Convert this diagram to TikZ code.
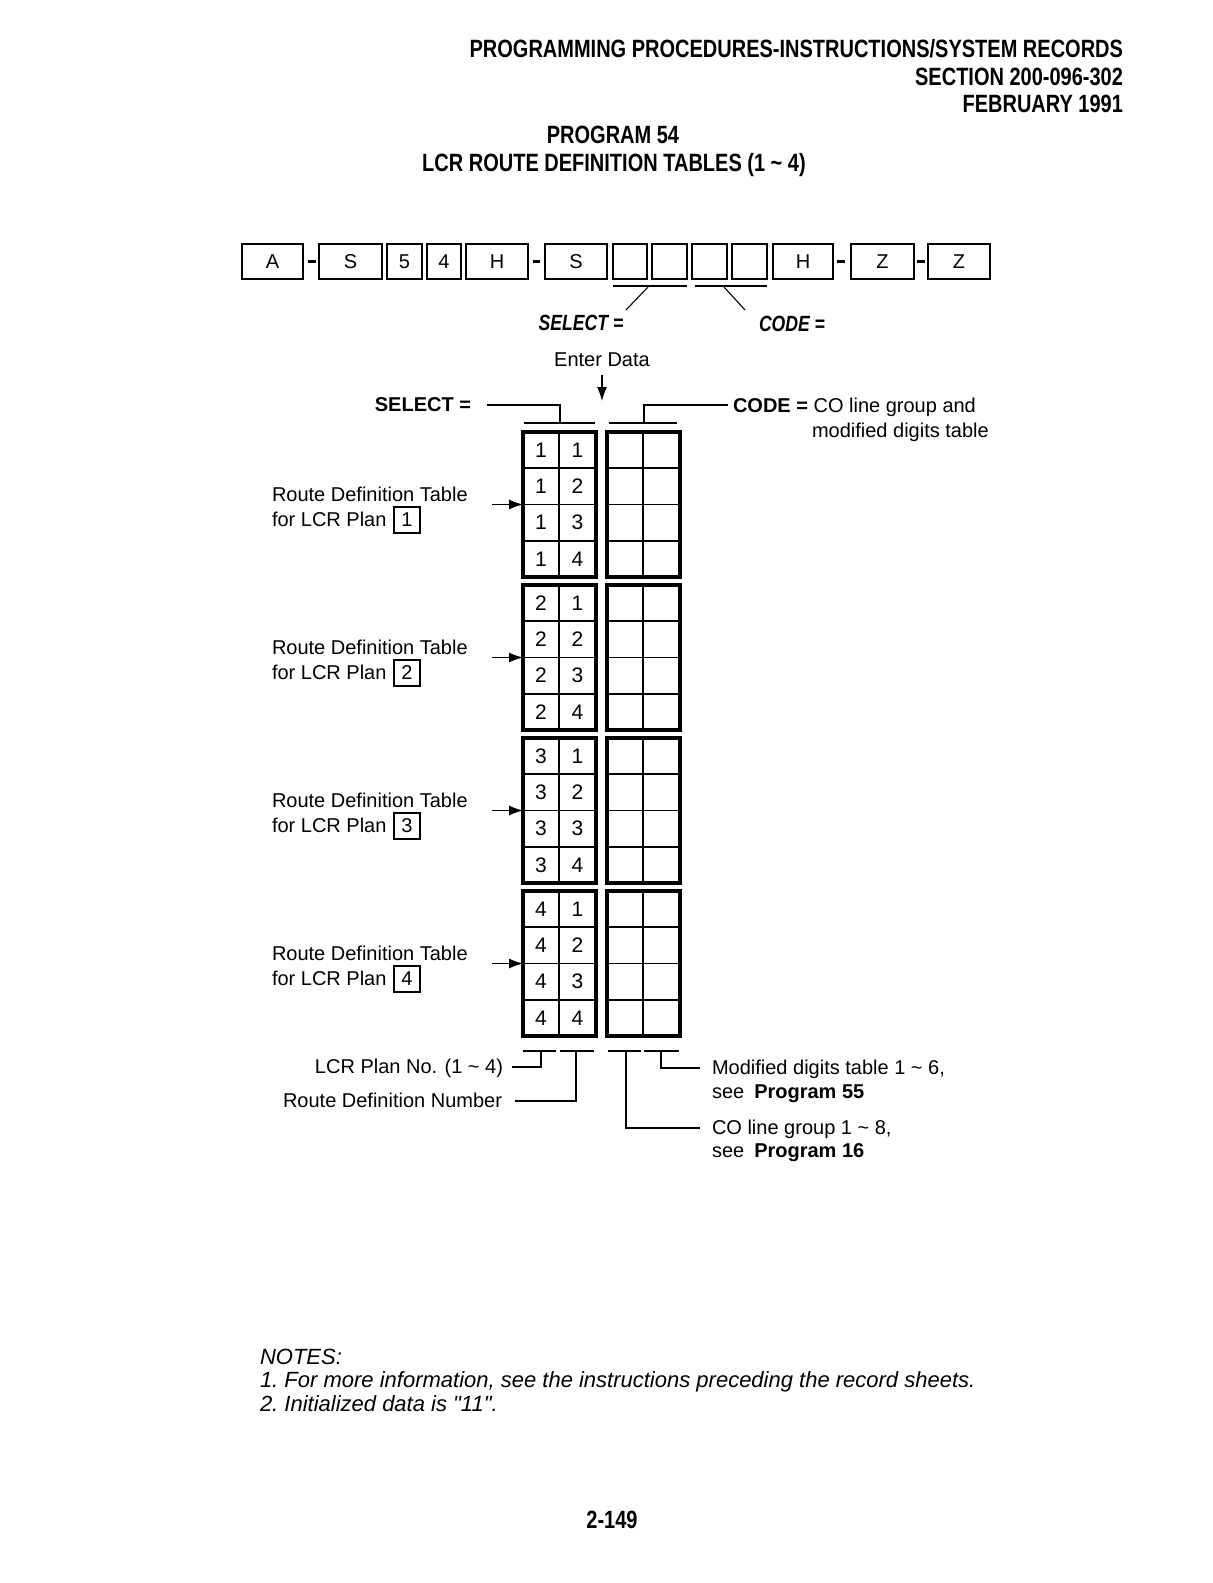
\documentclass[tikz,border=0pt]{standalone}
\usepackage{fontspec}
\setmainfont{Liberation Sans}
\newfontfamily\cond[FakeStretch=0.8]{Liberation Sans}
\usetikzlibrary{arrows.meta}
\begin{document}
\begin{tikzpicture}[x=0.5pt,y=-0.5pt,
  every node/.style={inner sep=0pt, outer sep=0pt},
  txt/.style={font=\fontsize{10}{12}\selectfont},
  hdr/.style={font=\fontsize{12.5}{15}\selectfont\cond\bfseries},
  topbox/.style={draw, line width=1pt, minimum height=17.5pt, font=\fontsize{10}{12}\selectfont},
  hyph/.style={line width=1.5pt},
  tbl/.style={draw, line width=1.6pt, minimum width=36.5pt, minimum height=72.5pt, anchor=north west},
  inl/.style={line width=0.85pt},
  brk/.style={line width=0.55pt},
  pbox/.style={draw, line width=0.7pt, minimum width=13pt, minimum height=13pt, font=\fontsize{10}{12}\selectfont},
  arr/.style={line width=0.6pt, -{Latex[length=7pt,width=5pt]}},
  digit/.style={font=\fontsize{10.5}{12}\selectfont},
  note/.style={font=\fontsize{11}{13}\selectfont\itshape, anchor=base west}
]
\useasboundingbox (0,0) rectangle (1213,1583);

% header
\node[hdr, anchor=base east] (h1) at (1123,58) {PROGRAMMING PROCEDURES-INSTRUCTIONS/SYSTEM RECORDS};
\node[hdr, anchor=base east] (h2) at (1123,86) {SECTION 200-096-302};
\node[hdr, anchor=base east] (h3) at (1123,113) {FEBRUARY 1991};
\node[hdr, anchor=base] (t1) at (613,144) {PROGRAM 54};
\node[hdr, anchor=base] (t2) at (614,172) {LCR ROUTE DEFINITION TABLES (1 \textasciitilde{} 4)};

% top row of keys
\node[topbox, minimum width=30.5pt] (bA) at (272.5,261.5) {A};
\node[topbox, minimum width=31.5pt] (bS1) at (350.5,261.5) {S};
\node[topbox, minimum width=17.5pt] (b5) at (404.5,261.5) {5};
\node[topbox, minimum width=17pt] (b4) at (444,261.5) {4};
\node[topbox, minimum width=31pt] (bH1) at (497,261.5) {H};
\node[topbox, minimum width=31pt] (bS2) at (576,261.5) {S};
\node[topbox, minimum width=17pt] (be1) at (630,261.5) {};
\node[topbox, minimum width=17.5pt] (be2) at (669.5,261.5) {};
\node[topbox, minimum width=17.5pt] (be3) at (709.5,261.5) {};
\node[topbox, minimum width=17.5pt] (be4) at (749.5,261.5) {};
\node[topbox, minimum width=30pt] (bH2) at (803,261.5) {H};
\node[topbox, minimum width=31.5pt] (bZ1) at (882.5,261.5) {Z};
\node[topbox, minimum width=31pt] (bZ2) at (959,261.5) {Z};
\draw[hyph] (308,262) -- (316,262);
\draw[hyph] (533,262) -- (540,262);
\draw[hyph] (837,262) -- (845,262);
\draw[hyph] (917,262) -- (925,262);

% underlines and pointers
\draw[brk] (613,286) -- (687,286);
\draw[brk] (695,286) -- (767,286);
\node[font=\fontsize{11}{13}\selectfont\cond\bfseries\itshape, anchor=base] (selI) at (581,331) {SELECT =};
\node[font=\fontsize{11}{13}\selectfont\cond\bfseries\itshape, anchor=base] (codeI) at (792,332) {CODE =};
\coordinate (u1) at (648,287);
\coordinate (u2) at (724,287);
\draw[brk] (u1) -- (626,310);
\draw[brk] (u2) -- (745,310);

% enter data
\node[txt, anchor=base] (enter) at (602,366) {Enter Data};
\coordinate (ed) at (602,401);
\draw[arr] (602,375) -- (ed);

% select / code labels
\node[font=\fontsize{10}{12}\selectfont\bfseries, anchor=base east] (sel) at (471,411) {SELECT =};
\node[txt, anchor=base west] (code) at (733,412) {\textbf{CODE =} CO line group and};
\node[txt, anchor=base west] (code2) at (812,437) {modified digits table};
\draw[brk] (487,405) -- (560,405) -- (560,423);
\draw[brk] (524,423) -- (595,423);
\draw[brk] (609,423) -- (677,423);
\draw[brk] (644,423) -- (644,405) -- (728,405);

% tables
\foreach \g in {0,1,2,3}{
  \pgfmathsetmacro\T{432+153*\g}
  \pgfmathtruncatemacro\p{\g+1}
  \pgfmathsetmacro\ba{501+153*\g}
  \pgfmathsetmacro\bb{526+153*\g}
  \pgfmathsetmacro\pc{520+153*\g}
  \node[tbl] (L\p) at (523,\T) {};
  \node[tbl] (R\p) at (607,\T) {};
  \draw[inl] (559,\T) -- ++(0,145);
  \draw[inl] (643,\T) -- ++(0,145);
  \foreach \r in {1,2,3}{
    \draw[inl] (523,\T+36.25*\r) -- (596,\T+36.25*\r);
    \draw[inl] (607,\T+36.25*\r) -- (680,\T+36.25*\r);
  }
  \foreach \r in {1,2,3,4}{
    \node[digit] (da\p\r) at (541,\T+18.1+36.25*\r-36.25) {\p};
    \node[digit] (db\p\r) at (577.5,\T+18.1+36.25*\r-36.25) {\r};
  }
  \node[txt, anchor=base west] (la\p) at (272,\ba) {Route Definition Table};
  \node[txt, anchor=base west] (lb\p) at (272,\bb) {for LCR Plan};
  \node[pbox] (pb\p) at (407,\pc) {\p};
  \coordinate (as\p) at (492,\T+72.5);
  \draw[arr] (as\p) -- (L\p.west);
}

% bottom brackets
\draw[brk] (523,1051) -- (556,1051);
\draw[brk] (560,1051) -- (594,1051);
\draw[brk] (608,1051) -- (641,1051);
\draw[brk] (644,1051) -- (679,1051);

\node[txt, anchor=base east] (lcr) at (503,1073) {LCR Plan No. (1 \textasciitilde{} 4)};
\node[txt, anchor=base east] (rdn) at (502,1107) {Route Definition Number};
\node[txt, anchor=base west] (mod) at (712,1074) {Modified digits table 1 \textasciitilde{} 6,};
\node[txt, anchor=base west] (mod2) at (712,1098) {see\hspace{5pt}\textbf{Program 55}};
\node[txt, anchor=base west] (col) at (712,1134) {CO line group 1 \textasciitilde{} 8,};
\node[txt, anchor=base west] (col2) at (712,1157) {see\hspace{5pt}\textbf{Program 16}};

\coordinate (lcrE) at (512,1067);
\coordinate (rdnE) at (515,1101);
\coordinate (modE) at (700,1068);
\coordinate (colE) at (700,1128);
\draw[brk] (541,1051) |- (lcrE);
\draw[brk] (576,1051) |- (rdnE);
\draw[brk] (661,1051) |- (modE);
\draw[brk] (626,1051) |- (colE);

% notes
\node[note] (n0) at (260,1364) {NOTES:};
\node[note] (n1) at (260,1387) {1.\ For more information, see the instructions preceding the record sheets.};
\node[note] (n2) at (260,1411) {2.\ Initialized data is {\addfontfeature{Ligatures=TeXOff}"11"}.};

% page number
\node[hdr, anchor=base] (pg) at (612,1528) {2-149};
\end{tikzpicture}
\end{document}
